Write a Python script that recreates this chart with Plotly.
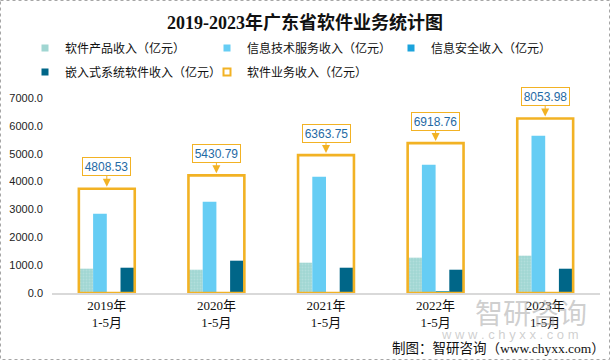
import plotly.graph_objects as go

categories = ["2019年<br>1-5月", "2020年<br>1-5月", "2021年<br>1-5月", "2022年<br>1-5月", "2023年<br>1-5月"]
software_product = [873, 836, 1088, 1268, 1340]
it_service = [2847, 3278, 4175, 4606, 5646]
info_security = [0, 0, 0, 57, 0]
embedded = [908, 1160, 908, 836, 872]
total = [4808.53, 5430.79, 6363.75, 6918.76, 8053.98]
total_labels = ["4808.53", "5430.79", "6363.75", "6918.76", "8053.98"]

names = ["软件产品收入（亿元）", "信息技术服务收入（亿元）", "信息安全收入（亿元）",
         "嵌入式系统软件收入（亿元）", "软件业务收入（亿元）"]
colors = ["#A0D6D2", "#66CDF4", "#1BA3DC", "#006688", "#F2B224"]

CJK = "Noto Sans CJK SC"
SERIF = "Liberation Serif, Noto Sans CJK SC"

fig = go.Figure()
bw = 0.125
series = [software_product, it_service, info_security, embedded]
for i, vals in enumerate(series):
    kw = {}
    if i == 0:
        kw["marker_pattern"] = dict(shape=".", fgcolor="#C4E6E3", size=3, solidity=0.35)
    fig.add_trace(go.Bar(x=categories, y=vals, name=names[i], width=bw, offset=-0.25 + i * bw,
                         marker_color=colors[i], marker_line_width=0, showlegend=False, **kw))

fig.add_trace(go.Bar(x=categories, y=total, name=names[4], width=0.51, offset=-0.255,
                     marker=dict(color="rgba(0,0,0,0)", line=dict(color=colors[4], width=2.6)),
                     yaxis="y2", showlegend=False))

# legend proxies: row 1 -> legend (items 0,1) + legend3 (item 2); row 2 -> legend2
legend_of = ["legend", "legend", "legend3", "legend2", "legend2"]
for i in range(5):
    if i < 4:
        m = dict(symbol="square", size=7, color=colors[i])
    else:
        m = dict(symbol="square-open", size=7, color=colors[4], line=dict(width=2, color=colors[4]))
    fig.add_trace(go.Scatter(x=[None], y=[None], mode="markers", marker=m, name=names[i],
                             legend=legend_of[i], showlegend=True))

W, H = 610, 360
L, R, T, B = 52, 10, 98, 67
pw, ph = W - L - R, H - T - B


def px2paper(x, y):
    return (x - L) / pw, (H - B - y) / ph


annotations = []
for c, v, t in zip(categories, total, total_labels):
    annotations.append(dict(x=c, y=v, xref="x", yref="y2", text=t, showarrow=True,
                            ax=0, ay=-22, arrowhead=2, arrowsize=1.6, arrowwidth=1,
                            arrowcolor=colors[4], standoff=2,
                            bordercolor=colors[4], borderwidth=1, bgcolor="white",
                            width=45, height=15, borderpad=1,
                            font=dict(family="Liberation Sans, Arial", size=12, color="#1F6AA5")))

wx, wy = px2paper(531, 312)
annotations.append(dict(x=wx, y=wy, xref="paper", yref="paper", xanchor="center", yanchor="middle",
                        text="智研咨询", showarrow=False,
                        font=dict(family=CJK, size=28, color="rgba(160,160,160,0.5)")))
wx, wy = px2paper(510, 334)
annotations.append(dict(x=wx, y=wy, xref="paper", yref="paper", xanchor="center", yanchor="middle",
                        text="w w w . c h y x x . c o m",
                        showarrow=False, font=dict(family="Liberation Sans", size=13,
                                                   color="rgba(160,160,160,0.5)")))
fx, fy = px2paper(607, 348)
annotations.append(dict(x=fx, y=fy, xref="paper", yref="paper", xanchor="right", yanchor="middle",
                        text="制图：智研咨询（www.chyxx.com）",
                        showarrow=False, font=dict(family=SERIF, size=13.5, color="#111111")))

x0, y0 = px2paper(0.5, 0.5)
x1, y1 = px2paper(609.5, 359.5)

legend_common = dict(orientation="h", xref="container", yref="container",
                     xanchor="left", yanchor="middle", entrywidth=137, entrywidthmode="pixels",
                     font=dict(family=CJK, size=12, color="#111111"), itemwidth=30,
                     bgcolor="rgba(0,0,0,0)")

fig.update_layout(
    width=W, height=H,
    margin=dict(l=L, r=R, t=T, b=B, autoexpand=False),
    paper_bgcolor="white", plot_bgcolor="white",
    title=dict(text="<b>2019-2023年广东省软件业务统计图</b>", x=0.5, xanchor="center",
               y=1 - 23 / H, yanchor="middle", xref="container", yref="container",
               font=dict(family=SERIF, size=18, color="#111111")),
    barmode="overlay",
    xaxis=dict(showline=True, linecolor="#D9D9D9", linewidth=1.5, ticks="",
               tickfont=dict(family=SERIF, size=13, color="#111111"), showgrid=False),
    yaxis=dict(range=[0, 7000], dtick=1000, tickformat=".1f", showgrid=False, zeroline=False,
               showline=False, ticks="", ticklabelstandoff=8,
               tickfont=dict(family="Liberation Sans, Arial", size=11, color="#222222")),
    yaxis2=dict(range=[0, 9000], overlaying="y", side="right", visible=False),
    legend=dict(x=25 / W, y=1 - 48 / H, **legend_common),
    legend3=dict(x=(25 + 2 * 183) / W, y=1 - 48 / H, **legend_common),
    legend2=dict(x=25 / W, y=1 - 72 / H, **legend_common),
    annotations=annotations,
    shapes=[dict(type="rect", xref="paper", yref="paper", x0=x0, y0=y0, x1=x1, y1=y1,
                 line=dict(color="#A6A6A6", width=1, dash="dot"), layer="above")],
)

fig.write_html("out.html", config={"displayModeBar": False},
               post_script="document.body.style.margin='0';")
